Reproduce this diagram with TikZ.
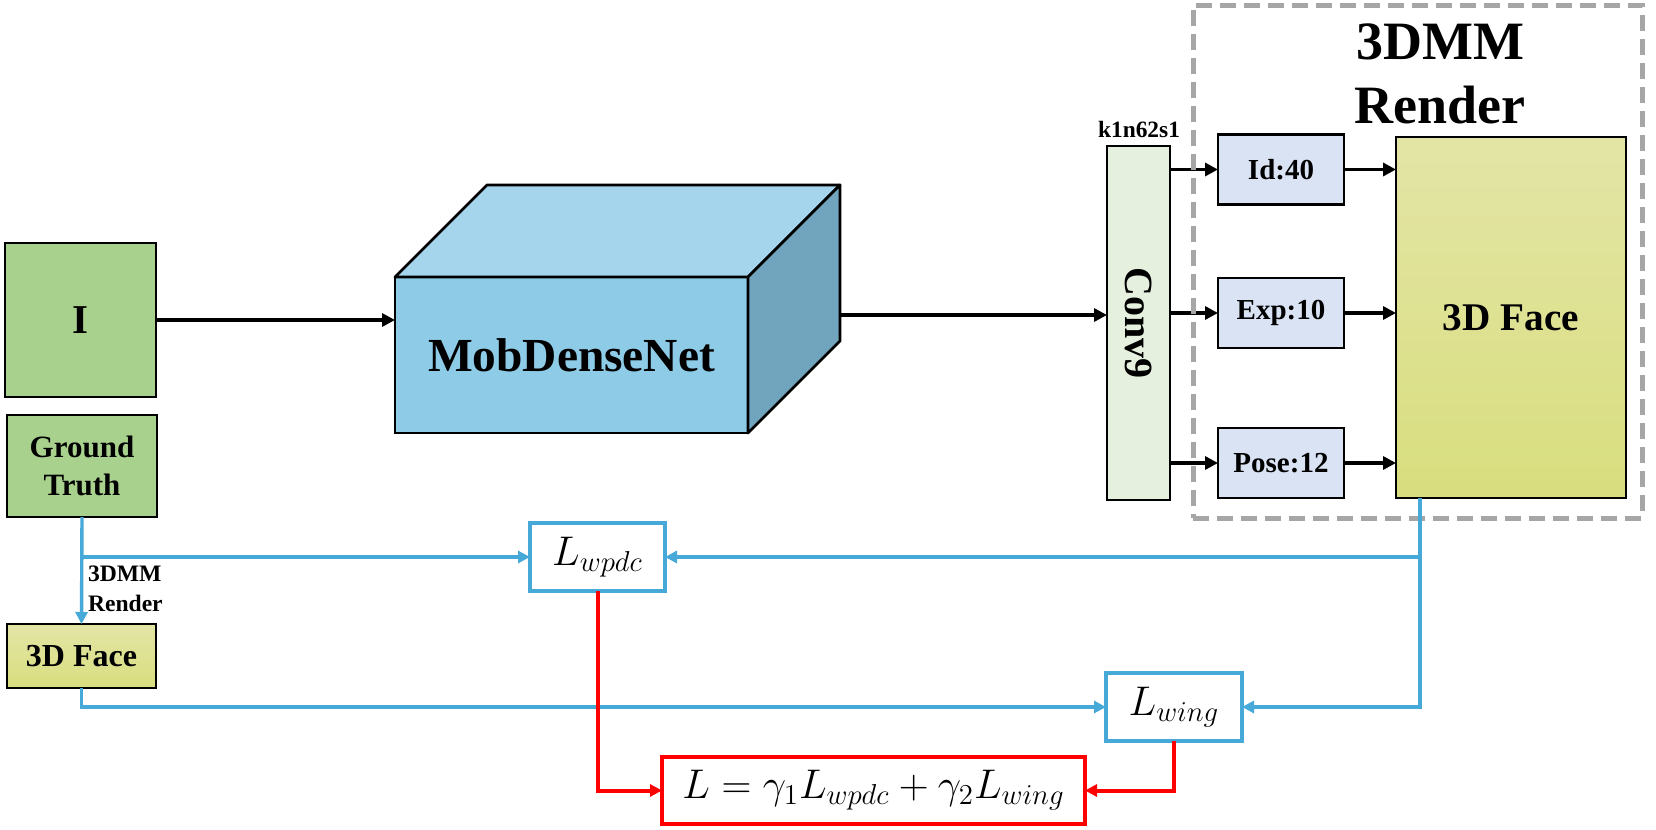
\documentclass[tikz,border=0pt]{standalone}
\usepackage{fontspec}
\setmainfont{Liberation Serif}
\usetikzlibrary{arrows.meta}
\definecolor{boxgreen}{HTML}{A9D18E}
\definecolor{facetop}{HTML}{E3E5A6}
\definecolor{facebot}{HTML}{D8DE7E}
\definecolor{cubefront}{HTML}{8DCBE6}
\definecolor{cubetop}{HTML}{A5D5EC}
\definecolor{cubeside}{HTML}{71A5BD}
\definecolor{convfill}{HTML}{E5F0DE}
\definecolor{parfill}{HTML}{DAE3F3}
\definecolor{lblue}{HTML}{47A9D8}
\definecolor{dgray}{HTML}{A6A6A6}
\begin{document}
\begin{tikzpicture}[x=0.5pt,y=-0.5pt,
  every node/.style={inner sep=0pt,outer sep=0pt},
  blk/.style={draw=black,line width=1.4pt},
  bbox/.style={draw=lblue,line width=1.8pt,fill=white},
  rbox/.style={draw=red,line width=1.8pt,fill=white},
  arr/.style={draw=black,line width=1.7pt,-{Triangle[length=6.5pt,width=6.5pt]}},
  barr/.style={draw=lblue,line width=1.7pt,-{Triangle[length=6pt,width=6pt]}},
  rarr/.style={draw=red,line width=2pt,-{Triangle[length=6pt,width=6pt]}},
  parbox/.style={blk,fill=parfill,minimum width=63pt,minimum height=35pt,font=\bfseries\fontsize{14.5}{17}\selectfont},
  mathlbl/.style={font=\fontsize{22}{26}\selectfont},
  mathtot/.style={font=\fontsize{20.5}{24}\selectfont}
]
\useasboundingbox (0,0) rectangle (1656,830);

\node[align=center,font=\bfseries\fontsize{27}{32}\selectfont] (title) at (1440,74) {3DMM\\Render};

% inputs
\node[blk,fill=boxgreen,minimum width=75.5pt,minimum height=77pt,font=\bfseries\fontsize{20.5}{24}\selectfont] (img) at (80.5,320) {I};
\node[blk,fill=boxgreen,minimum width=75pt,minimum height=51pt,align=center,font=\bfseries\fontsize{15.5}{19}\selectfont] (gt) at (82,466) {Ground\\Truth};
\node[blk,top color=facetop,bottom color=facebot,minimum width=74.5pt,minimum height=32pt,font=\bfseries\fontsize{16}{19}\selectfont] (fs) at (81.5,656) {3D Face};
\node[anchor=west,align=left,font=\bfseries\fontsize{11.8}{15}\selectfont] (rlbl) at (88,589) {3DMM\\Render};

% MobDenseNet cube
\node[blk,fill=cubefront,minimum width=176.5pt,minimum height=78pt,font=\bfseries\fontsize{23.7}{28}\selectfont] (net) at (571.5,355) {MobDenseNet};
\draw[blk,fill=cubetop,line join=round] (net.north west) -- ++(92,-92) -- ++(353,0) -- (net.north east) -- cycle;
\draw[blk,fill=cubeside,line join=round] (net.north east) -- ++(92,-92) -- ++(0,156) -- (net.south east) -- cycle;
\coordinate (netout) at (840,315);

% conv and parameters
\node[blk,fill=convfill,minimum width=31.5pt,minimum height=177pt] (conv) at (1138.5,323) {};
\node[rotate=-90,font=\bfseries\fontsize{20}{24}\selectfont] (convtxt) at (conv.center) {Conv9};
\node[font=\bfseries\fontsize{11.7}{14}\selectfont] (klbl) at (1139,129) {k1n62s1};
\node[parbox] (id) at (1281,169.5) {Id:40};
\node[parbox] (exp) at (1281,313) {Exp:10};
\node[parbox] (pose) at (1281,463) {Pose:12};
\node[blk,top color=facetop,bottom color=facebot,minimum width=115pt,minimum height=180.5pt,font=\bfseries\fontsize{19.6}{23}\selectfont] (face) at (1511,317.5) {3D Face};

% losses
\node[bbox,minimum width=67.5pt,minimum height=34pt,mathlbl] (lw) at (597.5,557) {$L_{wpdc}$};
\node[bbox,minimum width=68pt,minimum height=34pt,mathlbl] (lwing) at (1174,707) {$L_{wing}$};
\node[rbox,minimum width=211.5pt,minimum height=33.5pt,mathtot] (tot) at (873.5,790.5) {$L=\gamma_1 L_{wpdc}+\gamma_2 L_{wing}$};

% black arrows
\draw[arr] (img.east) -- (img.east -| net.west);
\draw[arr] (netout) -- (netout -| conv.west);
\draw[arr] (conv.east |- id.west) -- (id.west);
\draw[arr] (conv.east |- exp.west) -- (exp.west);
\draw[arr] (conv.east |- pose.west) -- (pose.west);
\draw[arr] (id.east) -- (id.east -| face.west);
\draw[arr] (exp.east) -- (exp.east -| face.west);
\draw[arr] (pose.east) -- (pose.east -| face.west);

% dashed 3DMM render frame (drawn over the arrows, as in the reference)
\node[draw=dgray,line width=2.5pt,dash pattern=on 8pt off 4pt,minimum width=224.5pt,minimum height=256.5pt] (frame) at (1417.5,261.5) {};

% blue connectors
\coordinate (fx) at (1420,0);
\draw[barr] (gt.south) -- (fs.north);
\draw[barr] (gt.south |- lw.west) -- (lw.west);
\draw[barr] (fs.south) |- (lwing.west);
\draw[barr] (face.south -| fx) |- (lwing.east);
\draw[barr] (fx |- lw.east) -- (lw.east);

% red connectors
\draw[rarr] (lw.south) |- (tot.west);
\draw[rarr] (lwing.south) |- (tot.east);
\end{tikzpicture}
\end{document}
